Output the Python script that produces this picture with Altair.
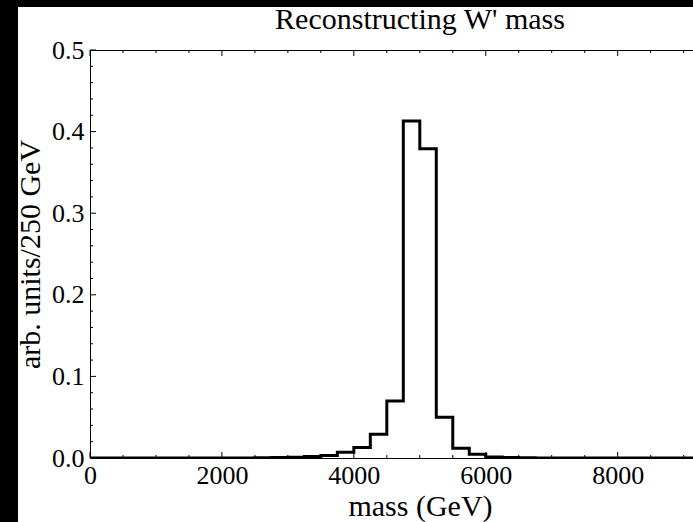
import altair as alt
import pandas as pd

# Histogram: bin left edges (GeV), 250 GeV bins, and heights (arb. units / 250 GeV)
bin_edges = [i * 250 for i in range(41)]  # 0 .. 10000
bin_heights = [
    0.0, 0.0, 0.0, 0.0, 0.0, 0.0, 0.0, 0.0,          # 0 - 2000
    0.0, 0.0001, 0.0003, 0.0006,                    # 2000 - 3000
    0.0010, 0.0018, 0.0030, 0.0070,                 # 3000 - 4000
    0.0130, 0.0290, 0.0700, 0.4130,                 # 4000 - 5000
    0.3790, 0.0500, 0.0120, 0.0045,                 # 5000 - 6000
    0.0013, 0.0005, 0.0002, 0.0001,                 # 6000 - 7000
    0.0, 0.0, 0.0, 0.0,                             # 7000 - 8000
    0.0, 0.0, 0.0, 0.0,                             # 8000 - 9000
    0.0, 0.0, 0.0, 0.0,                             # 9000 - 10000
]
# step-after line needs a closing point at the last edge
line_y = bin_heights + [bin_heights[-1]]

x_major = [0, 2000, 4000, 6000, 8000]
x_minor = [v for v in range(0, 9500, 500) if v % 2000 != 0]
y_major = [0.0, 0.1, 0.2, 0.3, 0.4, 0.5]
y_minor = [round(0.02 * i, 2) for i in range(26) if i % 5 != 0]

title_text = ["Reconstructing W' mass"]

X_VISIBLE_MAX = 9142
W, H = 603, 408
FONT = "Liberation Serif"
FS = 26
TFS = 30

hist = pd.DataFrame({"mass": bin_edges, "h": line_y})

xs = alt.Scale(domain=[0, X_VISIBLE_MAX], nice=False, zero=False)
ys = alt.Scale(domain=[0, 0.5], nice=False)

one = alt.Data(values=[{"a": 1}])

# white page with black strips on left and top
strips = alt.Chart(one).mark_rect(color="black", clip=False).encode(
    x=alt.value(-90), x2=alt.value(-72), y=alt.value(-50), y2=alt.value(H + 64)
)
strip_top = alt.Chart(one).mark_rect(color="black", clip=False).encode(
    x=alt.value(-90), x2=alt.value(W), y=alt.value(-50), y2=alt.value(-43)
)

title = alt.Chart(pd.DataFrame({"t": title_text})).mark_text(
    font=FONT, fontSize=TFS, color="black", align="center", baseline="alphabetic"
).encode(text="t:N", x=alt.value(330), y=alt.value(-21))

line = alt.Chart(hist).mark_line(
    interpolate="step-after", color="black", strokeWidth=3, clip=True,
    strokeJoin="miter", strokeCap="square"
).encode(
    x=alt.X("mass:Q", scale=xs, axis=alt.Axis(
        values=x_major, format="d", ticks=False, tickSize=0, grid=False,
        domainColor="black", domainWidth=1,
        labelFont=FONT, labelFontSize=FS, labelColor="black", labelPadding=4,
        labelFlush=False,
        title="mass (GeV)", titleFont=FONT, titleFontSize=TFS, titleFontWeight="normal",
        titleColor="black", titleBaseline="alphabetic", titleY=57, titleX=330,
        titleAlign="center",
    )),
    y=alt.Y("h:Q", scale=ys, axis=alt.Axis(
        values=y_major, format=".1f", ticks=False, tickSize=0, grid=False,
        domainColor="black", domainWidth=1,
        labelFont=FONT, labelFontSize=FS, labelColor="black", labelPadding=6,
        labelFlush=False,
        title="arb. units/250 GeV", titleFont=FONT, titleFontSize=TFS, titleFontWeight="normal",
        titleColor="black", titleBaseline="alphabetic", titleX=-51, titleY=H / 2,
        titleAlign="center", titleAngle=270,
    )),
)

top_frame = alt.Chart(one).mark_rule(color="black", strokeWidth=1).encode(
    x=alt.value(0), x2=alt.value(W), y=alt.value(0.5)
)

def xticks(vals, length, top):
    df = pd.DataFrame({"t": vals})
    if top:
        yy, yy2 = alt.value(0), alt.value(length)
    else:
        yy, yy2 = alt.value(H), alt.value(H - length)
    return alt.Chart(df).mark_rule(color="black", strokeWidth=1).encode(
        x=alt.X("t:Q", scale=xs), y=yy, y2=yy2
    )

def yticks(vals, length):
    df = pd.DataFrame({"t": vals})
    return alt.Chart(df).mark_rule(color="black", strokeWidth=1).encode(
        y=alt.Y("t:Q", scale=ys), x=alt.value(0), x2=alt.value(length)
    )

chart = alt.layer(
    strips, strip_top, title,
    xticks(x_major, 6, False), xticks(x_minor, 3, False),
    xticks(x_major, 6, True), xticks(x_minor, 3, True),
    yticks(y_major, 6), yticks(y_minor, 3),
    top_frame,
    line,
).properties(
    width=W, height=H,
    autosize=alt.AutoSizeParams(type="none"),
    padding={"left": 90, "top": 50, "right": 0, "bottom": 64},
    background="white",
).configure_view(stroke=None)

chart.save("out.html", embed_options={"renderer": "svg", "actions": False})
